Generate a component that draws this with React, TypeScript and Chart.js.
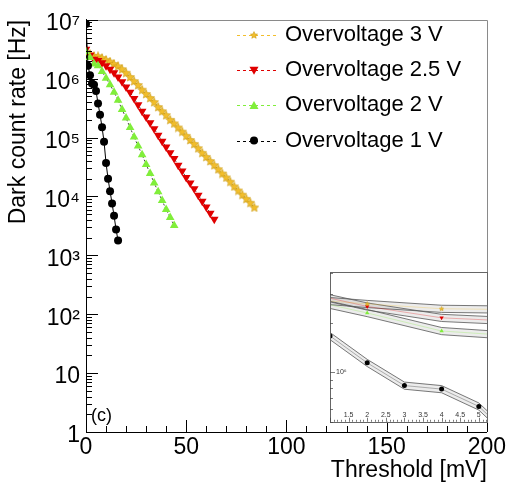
import React, { useEffect, useRef } from 'react';
import { Chart, registerables } from 'chart.js';

Chart.register(...registerables);

const FONT = "'Liberation Sans', Arial, Helvetica, sans-serif";

// ---- data (threshold in mV, dark count rate in Hz) ----
const thr3V = [0, 2, 4, 6, 8, 10, 12, 14, 16, 18, 20, 22, 24, 26, 28, 30, 32, 34, 36, 38, 40, 42, 44, 46, 48, 50, 52, 54, 56, 58, 60, 62, 64, 66, 68, 70, 72, 74, 76, 78, 80, 82, 84];
const rate3V = [2.82e6, 2.6e6, 2.43e6, 2.4e6, 2.24e6, 2.09e6, 1.95e6, 1.78e6, 1.62e6, 1.45e6, 1.26e6, 1.07e6, 9.1e5, 7.8e5, 6.5e5, 5.5e5, 4.7e5, 4.0e5, 3.3e5, 2.8e5, 2.4e5, 2.0e5, 1.74e5, 1.48e5, 1.26e5, 1.07e5, 9.1e4, 7.8e4, 6.6e4, 5.5e4, 4.7e4, 4.0e4, 3.4e4, 2.9e4, 2.45e4, 2.1e4, 1.78e4, 1.48e4, 1.26e4, 1.07e4, 9.1e3, 7.8e3, 6.5e3];

const thr25V = [0, 2, 4, 6, 8, 10, 12, 14, 16, 18, 20, 22, 24, 26, 28, 30, 32, 34, 36, 38, 40, 42, 44, 46, 48, 50, 52, 54, 56, 58, 60, 62, 64];
const rate25V = [3.16e6, 2.51e6, 2.14e6, 2.04e6, 1.86e6, 1.66e6, 1.45e6, 1.26e6, 1.07e6, 8.9e5, 7.2e5, 5.9e5, 4.6e5, 3.6e5, 2.8e5, 2.24e5, 1.78e5, 1.41e5, 1.1e5, 8.7e4, 6.9e4, 5.5e4, 4.4e4, 3.4e4, 2.7e4, 2.1e4, 1.7e4, 1.35e4, 1.05e4, 8.3e3, 6.6e3, 5.2e3, 4.1e3];

const thr2V = [0, 2, 4, 6, 8, 10, 12, 14, 16, 18, 20, 22, 24, 26, 28, 30, 32, 34, 36, 38, 40, 42, 44];
const rate2V = [2.88e6, 2.29e6, 1.78e6, 1.66e6, 1.32e6, 1.02e6, 7.9e5, 5.9e5, 4.3e5, 3.0e5, 2.14e5, 1.48e5, 1.02e5, 7.2e4, 5.1e4, 3.5e4, 2.45e4, 1.7e4, 1.2e4, 8.5e3, 6.0e3, 4.4e3, 3.2e3];

const thr1V = [0, 1, 2, 3, 4, 5, 6, 7, 8, 9, 10, 11, 12, 13, 14, 15, 16];
const rate1V = [8.5e6, 1.66e6, 1.14e6, 8.3e5, 7.9e5, 6.2e5, 3.8e5, 2.45e5, 1.5e5, 8.5e4, 3.7e4, 2.0e4, 1.23e4, 7.6e3, 4.7e3, 2.75e3, 1.78e3];

// relative uncertainty used for the inset error bands
const bandRelErr = [0.05, 0.05, 0.05, 0.05];

const seriesLabels = ['Overvoltage 3 V', 'Overvoltage 2.5 V', 'Overvoltage 2 V', 'Overvoltage 1 V'];

// axis tick labels
const xTickLabels = [0, 50, 100, 150, 200];
const yDecades = [1, 10, 100, 1e3, 1e4, 1e5, 1e6, 1e7];
const yDecadeLabels = ['1', '10', '10²', '10³', '10⁴', '10⁵', '10⁶', '10⁷'];
const insetXLabels = [1.5, 2, 2.5, 3, 3.5, 4, 4.5, 5];

// ---- styles ----
const COLORS = ['#F2BE2C', '#E00000', '#80EE3A', '#000000'];

function makeStar(size: number, fill: string, stroke: string) {
  const c = document.createElement('canvas');
  c.width = size;
  c.height = size;
  const g = c.getContext('2d')!;
  const cx = size / 2, cy = size / 2 + 0.3;
  const R = size / 2 - 0.3, r = R * 0.45;
  g.beginPath();
  for (let i = 0; i < 10; i++) {
    const ang = -Math.PI / 2 + (i * Math.PI) / 5;
    const rr = i % 2 === 0 ? R : r;
    g.lineTo(cx + rr * Math.cos(ang), cy + rr * Math.sin(ang));
  }
  g.closePath();
  g.fillStyle = fill;
  g.fill();
  g.strokeStyle = stroke;
  g.lineWidth = 0.6;
  g.stroke();
  return c;
}

const xsList = [thr3V, thr25V, thr2V, thr1V];
const ysList = [rate3V, rate25V, rate2V, rate1V];

function markerDef(i: number, scale: number) {
  if (i === 0) return { style: makeStar(Math.round(10 * scale), COLORS[0], '#C99A12') as any, radius: 5 * scale, rotation: 0 };
  if (i === 1) return { style: 'triangle', radius: 5 * scale, rotation: 180 };
  if (i === 2) return { style: 'triangle', radius: 5 * scale, rotation: 0 };
  return { style: 'circle', radius: 4 * scale, rotation: 0 };
}

function drawLegendMarker(ctx: CanvasRenderingContext2D, i: number, x: number, y: number) {
  ctx.save();
  ctx.fillStyle = COLORS[i];
  if (i === 0) {
    const s = makeStar(8, COLORS[0], '#C99A12');
    ctx.drawImage(s, x - 4, y - 4);
  } else if (i === 1) {
    ctx.beginPath();
    ctx.moveTo(x - 4.5, y - 3.5);
    ctx.lineTo(x + 4.5, y - 3.5);
    ctx.lineTo(x, y + 4.5);
    ctx.closePath();
    ctx.fill();
  } else if (i === 2) {
    ctx.beginPath();
    ctx.moveTo(x - 4.5, y + 3.5);
    ctx.lineTo(x + 4.5, y + 3.5);
    ctx.lineTo(x, y - 4.5);
    ctx.closePath();
    ctx.fill();
  } else {
    ctx.beginPath();
    ctx.arc(x, y, 4, 0, Math.PI * 2);
    ctx.fill();
  }
  ctx.restore();
}

const mainDecor = {
  id: 'mainDecor',
  afterDraw(chart: any) {
    const { ctx, chartArea: a, scales } = chart;
    const xs = scales.x, ys = scales.y;
    ctx.save();
    // top / right frame
    ctx.strokeStyle = '#8a8a8a';
    ctx.lineWidth = 1;
    ctx.beginPath();
    ctx.moveTo(Math.round(a.left), Math.round(a.top) + 0.5);
    ctx.lineTo(Math.round(a.right) + 0.5, Math.round(a.top) + 0.5);
    ctx.lineTo(Math.round(a.right) + 0.5, Math.round(a.bottom));
    ctx.stroke();
    // inward ticks
    ctx.strokeStyle = '#000';
    ctx.beginPath();
    for (let d = 1; d <= 1e7; d *= 10) {
      const p = Math.round(ys.getPixelForValue(d)) + 0.5;
      ctx.moveTo(a.left, p);
      ctx.lineTo(a.left + 12, p);
      if (d < 1e7) {
        for (let k = 2; k <= 9; k++) {
          const q = Math.round(ys.getPixelForValue(d * k)) + 0.5;
          ctx.moveTo(a.left, q);
          ctx.lineTo(a.left + 6, q);
        }
      }
    }
    for (let v = 0; v <= 200; v += 10) {
      const p = Math.round(xs.getPixelForValue(v)) + 0.5;
      const len = v % 50 === 0 ? 12 : 6;
      ctx.moveTo(p, a.bottom);
      ctx.lineTo(p, a.bottom - len);
    }
    ctx.stroke();
    // panel tag
    ctx.fillStyle = '#000';
    ctx.font = `18px ${FONT}`;
    ctx.textBaseline = 'middle';
    ctx.textAlign = 'left';
    ctx.fillText('(c)', 91, 416);
    // legend
    ctx.font = `22px ${FONT}`;
    seriesLabels.forEach((lab, i) => {
      const y = 35 + i * 35.2;
      ctx.save();
      ctx.strokeStyle = COLORS[i];
      ctx.lineWidth = 1;
      ctx.setLineDash([3, 3]);
      ctx.beginPath();
      ctx.moveTo(237, Math.round(y) + 0.5);
      ctx.lineTo(277, Math.round(y) + 0.5);
      ctx.stroke();
      ctx.restore();
      drawLegendMarker(ctx, i, 254, y);
      ctx.fillStyle = '#000';
      ctx.fillText(lab, 285, y);
    });
    ctx.restore();
  },
};

const insetDecor = {
  id: 'insetDecor',
  beforeDraw(chart: any) {
    const { ctx, chartArea: a } = chart;
    ctx.save();
    ctx.fillStyle = '#fff';
    ctx.fillRect(a.left, a.top, a.right - a.left, a.bottom - a.top);
    ctx.restore();
  },
  afterDraw(chart: any) {
    const { ctx, chartArea: a, scales } = chart;
    const xs = scales.x, ys = scales.y;
    ctx.save();
    ctx.strokeStyle = '#666';
    ctx.lineWidth = 1;
    ctx.strokeRect(Math.round(a.left) + 0.5, Math.round(a.top) + 0.5, Math.round(a.right - a.left), Math.round(a.bottom - a.top));
    ctx.beginPath();
    ctx.strokeStyle = '#444';
    ctx.lineWidth = 0.7;
    for (let i = 10; i <= 52; i++) {
      const v = i / 10;
      const p = Math.round(xs.getPixelForValue(v)) + 0.5;
      const len = i % 5 === 0 ? 4 : 2;
      ctx.moveTo(p, a.bottom);
      ctx.lineTo(p, a.bottom - len);
    }
    const yt = [5e5, 6e5, 7e5, 8e5, 9e5, 1e6, 2e6, 3e6, 4e6];
    yt.forEach((v) => {
      const p = Math.round(ys.getPixelForValue(v)) + 0.5;
      ctx.moveTo(a.left, p);
      ctx.lineTo(a.left + (v === 1e6 ? 5 : 3), p);
    });
    ctx.stroke();
    // x tick labels, drawn inside the frame like the original
    ctx.fillStyle = '#333';
    ctx.font = `7px ${FONT}`;
    ctx.textAlign = 'center';
    ctx.textBaseline = 'middle';
    insetXLabels.forEach((v) => {
      ctx.fillText(String(v), xs.getPixelForValue(v), a.bottom - 7);
    });
    ctx.restore();
  },
};

function mainConfig(): any {
  const datasets = seriesLabels.map((label, i) => {
    const m = markerDef(i, 1);
    return {
      label,
      data: xsList[i].map((x, j) => ({ x, y: ysList[i][j] })),
      showLine: true,
      borderColor: i === 3 ? '#000' : '#444',
      borderWidth: 1,
      borderDash: i === 3 ? [] : [2, 2],
      pointStyle: m.style,
      pointRadius: m.radius,
      pointRotation: m.rotation,
      pointBackgroundColor: COLORS[i],
      pointBorderColor: COLORS[i],
      pointBorderWidth: 0,
      fill: false,
      tension: 0,
      order: 3 - i,
    };
  });
  return {
    type: 'scatter',
    data: { datasets },
    options: {
      responsive: false,
      animation: false,
      devicePixelRatio: 1,
      layout: { padding: { left: 0, top: 15, right: 20, bottom: 0 } },
      plugins: { legend: { display: false }, tooltip: { enabled: false } },
      scales: {
        x: {
          type: 'linear',
          position: 'bottom',
          min: 0,
          max: 200,
          grid: { display: false, drawTicks: false },
          border: { display: true, color: '#000', width: 1 },
          afterBuildTicks: (s: any) => { s.ticks = xTickLabels.map((v) => ({ value: v })); },
          ticks: {
            font: { family: FONT, size: 23 },
            color: '#000',
            padding: 2,
            maxRotation: 0,
            autoSkip: false,
            callback: (v: any) => String(v),
          },
          title: {
            display: true,
            text: 'Threshold [mV]',
            align: 'end',
            color: '#000',
            font: { family: FONT, size: 23 },
            padding: { top: 0, bottom: 0 },
          },
          afterFit: (s: any) => { s.height = 52; },
        },
        y: {
          type: 'logarithmic',
          position: 'left',
          min: 1,
          max: 1e7,
          grid: { display: false, drawTicks: false },
          border: { display: true, color: '#000', width: 1 },
          afterBuildTicks: (s: any) => { s.ticks = yDecades.map((v) => ({ value: v })); },
          ticks: {
            font: { family: FONT, size: 23 },
            color: '#000',
            padding: 6,
            labelOffset: 4,
            autoSkip: false,
            callback: (v: any) => {
              const k = yDecades.indexOf(Number(v));
              return k >= 0 ? yDecadeLabels[k] : '';
            },
          },
          title: {
            display: true,
            text: 'Dark count rate [Hz]',
            align: 'end',
            color: '#000',
            font: { family: FONT, size: 23 },
            padding: { top: 5, bottom: 0 },
          },
          afterFit: (s: any) => { s.width = 86; },
        },
      },
    },
    plugins: [mainDecor],
  };
}

function insetConfig(): any {
  const datasets: any[] = [];
  seriesLabels.forEach((label, i) => {
    const pts = xsList[i].map((x, j) => ({ x, y: ysList[i][j] }));
    datasets.push({
      label: label + ' band+',
      data: pts.map((p) => ({ x: p.x, y: p.y * (1 + bandRelErr[i]) })),
      showLine: true,
      borderColor: '#555',
      borderWidth: 0.8,
      pointRadius: 0,
      fill: '+1',
      backgroundColor: 'rgba(120,120,120,0.14)',
      order: 2,
    });
    datasets.push({
      label: label + ' band-',
      data: pts.map((p) => ({ x: p.x, y: p.y * (1 - bandRelErr[i]) })),
      showLine: true,
      borderColor: '#555',
      borderWidth: 0.8,
      pointRadius: 0,
      fill: false,
      order: 2,
    });
  });
  seriesLabels.forEach((label, i) => {
    const m = markerDef(i, 0.5);
    datasets.push({
      label,
      data: xsList[i].map((x, j) => ({ x, y: ysList[i][j] })),
      showLine: true,
      borderColor: i === 3 ? 'rgba(0,0,0,0.4)' : COLORS[i] + '66',
      borderWidth: 0.7,
      pointStyle: m.style,
      pointRadius: i === 3 ? 2.5 : m.radius,
      pointRotation: m.rotation,
      pointBackgroundColor: COLORS[i],
      pointBorderColor: COLORS[i],
      pointBorderWidth: 0,
      fill: false,
      order: 0,
    });
  });
  return {
    type: 'scatter',
    data: { datasets },
    options: {
      responsive: false,
      animation: false,
      devicePixelRatio: 1,
      layout: { padding: { left: 8, top: 5, right: 5, bottom: 5 } },
      plugins: { legend: { display: false }, tooltip: { enabled: false } },
      scales: {
        x: {
          type: 'linear',
          min: 1,
          max: 5.22,
          grid: { display: false, drawTicks: false },
          border: { display: false },
          ticks: { display: false },
          afterFit: (s: any) => { s.height = 0; },
        },
        y: {
          type: 'logarithmic',
          min: 5e5,
          max: 4.05e6,
          grid: { display: false, drawTicks: false },
          border: { display: false },
          afterBuildTicks: (s: any) => { s.ticks = [{ value: 1e6 }]; },
          ticks: {
            font: { family: FONT, size: 7 },
            color: '#333',
            mirror: true,
            padding: 6,
            autoSkip: false,
            callback: () => '10⁶',
          },
          afterFit: (s: any) => { s.width = 0; },
        },
      },
    },
    plugins: [insetDecor],
  };
}

export default function App() {
  const mainRef = useRef<HTMLCanvasElement>(null);
  const insetRef = useRef<HTMLCanvasElement>(null);
  useEffect(() => {
    const main = new Chart(mainRef.current!, mainConfig());
    const inset = new Chart(insetRef.current!, insetConfig());
    return () => {
      main.destroy();
      inset.destroy();
    };
  }, []);
  return (
    <div style={{ position: 'fixed', left: 0, top: 0, width: 508, height: 484, background: '#fff' }}>
      <canvas ref={mainRef} width={508} height={484} style={{ position: 'absolute', left: 0, top: 0 }} />
      <canvas ref={insetRef} width={170} height={170} style={{ position: 'absolute', left: 322, top: 262 }} />
    </div>
  );
}
